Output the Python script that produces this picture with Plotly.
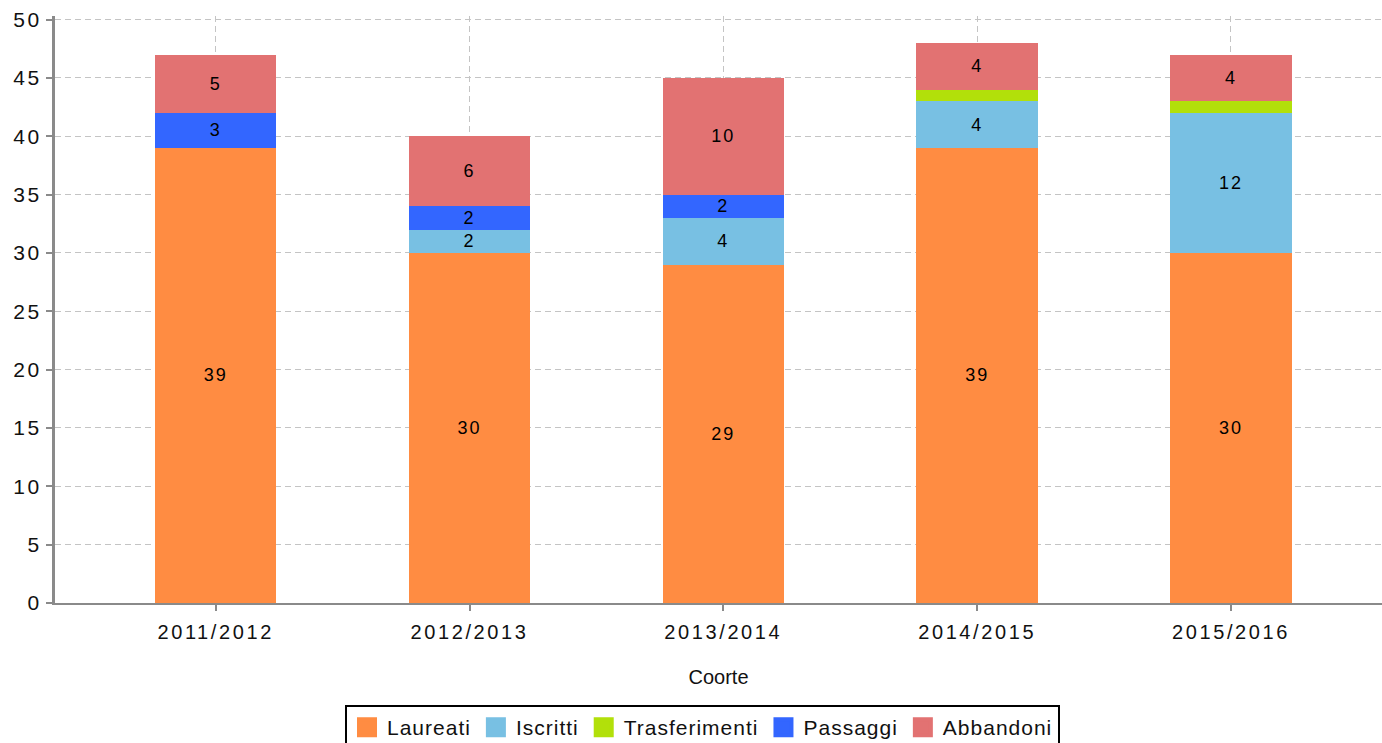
import plotly.graph_objects as go

categories = ["2011/2012", "2012/2013", "2013/2014", "2014/2015", "2015/2016"]
laureati = [39, 30, 29, 39, 30]
iscritti = [0, 2, 4, 4, 12]
trasferimenti = [0, 0, 0, 1, 1]
passaggi = [3, 2, 2, 0, 0]
abbandoni = [5, 6, 10, 4, 4]

series = [
    ("Laureati", laureati, "#ff8c42"),
    ("Iscritti", iscritti, "#78c0e3"),
    ("Trasferimenti", trasferimenti, "#b2e00a"),
    ("Passaggi", passaggi, "#3366ff"),
    ("Abbandoni", abbandoni, "#e27272"),
]

FONT = "Liberation Sans, Arial, sans-serif"
GRID = "#c4c4c4"
AXIS = "#8a8a8a"

fig = go.Figure()
for name, vals, color in series:
    fig.add_trace(go.Bar(
        x=categories, y=vals, name=name, showlegend=False,
        marker=dict(color=color, line=dict(width=0)),
        text=[str(v) if v >= 2 else "" for v in vals],
        textposition="inside", insidetextanchor="middle",
        textangle=0, constraintext="none",
        textfont=dict(color="black", size=18, family=FONT),
        width=0.478, hoverinfo="skip",
    ))
# legend entries (square swatches)
for name, vals, color in series:
    fig.add_trace(go.Scatter(
        x=[None], y=[None], mode="markers", name=name,
        marker=dict(symbol="square", size=16, color=color,
                    line=dict(width=4, color=color)),
        showlegend=True, hoverinfo="skip",
    ))

fig.update_layout(
    barmode="stack",
    width=1382, height=743,
    paper_bgcolor="white", plot_bgcolor="white",
    margin=dict(l=55, r=0, t=16, b=140, autoexpand=False),
    font=dict(family=FONT, size=20, color="#111"),
    showlegend=True,
    legend=dict(
        orientation="h", xref="container", yref="container",
        x=345 / 1382, xanchor="left", y=1 - 705 / 743, yanchor="top",
        bordercolor="black", borderwidth=2, bgcolor="white",
        font=dict(size=21, family=FONT),
        itemwidth=30, traceorder="normal", itemsizing="trace",
    ),
    xaxis=dict(
        range=[-0.633, 4.595], automargin=False,
        showgrid=True, gridcolor=GRID, griddash="6px,4px", gridwidth=1,
        showline=True, linecolor=AXIS, linewidth=2,
        ticks="outside", ticklen=6, tickcolor=AXIS, tickwidth=2,
        tickfont=dict(size=20), ticklabelstandoff=4,
        title=dict(text="Coorte", font=dict(size=20), standoff=28),
    ),
    yaxis=dict(
        range=[0, 50.31], dtick=5, tick0=0, automargin=False,
        showgrid=True, gridcolor=GRID, griddash="6px,4px", gridwidth=1,
        showline=True, linecolor=AXIS, linewidth=3,
        ticks="outside", ticklen=6, tickcolor=AXIS, tickwidth=2,
        tickfont=dict(size=21), zeroline=False, ticklabelstandoff=0,
    ),
)

post = """
document.body.style.margin = '0';
document.body.style.overflow = 'hidden';
var gd = document.getElementById('{plot_id}');
var st = document.createElement('style');
st.textContent = '.xtick text, .ytick text {letter-spacing: 2.6px;} .bartext {letter-spacing: 2px;} .legendtext {letter-spacing: 1px;}';
document.head.appendChild(st);
var lay = gd.layout;
lay.legend.font.family = 'Liberation Sans, Arial, Helvetica, sans-serif';
return Plotly.newPlot(gd, gd.data, lay, {displayModeBar: false, staticPlot: true});
"""

fig.write_html("out.html", post_script=post,
               config={"displayModeBar": False, "staticPlot": True})
